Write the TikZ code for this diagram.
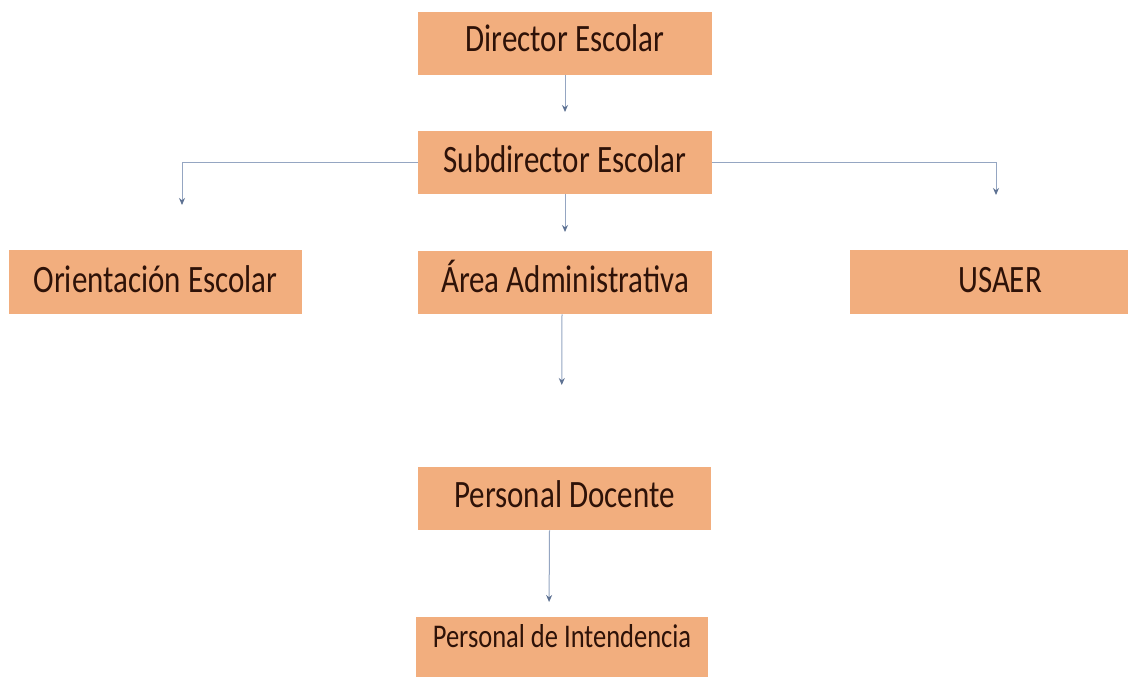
\documentclass[tikz,border=0pt]{standalone}
\usepackage{fontspec}
\setmainfont{Carlito}
\usetikzlibrary{arrows.meta}
\definecolor{boxfill}{HTML}{F2AE7E}
\definecolor{boxtext}{HTML}{2E1208}
\definecolor{lineclr}{HTML}{95A6C2}
\definecolor{tipclr}{HTML}{5E7293}
\newcommand{\tall}[1]{\scalebox{1}[1.25]{#1}}
\tikzset{
  orgbox/.style={fill=boxfill, draw=none, inner sep=0pt, text=boxtext,
    font=\fontsize{31}{36}\selectfont, anchor=north,
    text height=41pt, text depth=22pt},
  conn/.style={draw=lineclr, line width=1pt,
    -{Stealth[length=7pt,width=6pt,color=tipclr]}}
}
\begin{document}
\begin{tikzpicture}[x=1pt,y=-1pt]
\useasboundingbox (0,0) rectangle (1128,677);
\clip (0,0) rectangle (1128,677);
\fill[white] (0,0) rectangle (1128,677);
\node[orgbox, minimum width=294pt, text height=39pt, text depth=24pt] (dir) at (565,12) {\tall{Director Escolar}};
\node[orgbox, minimum width=294pt] (sub) at (565,131) {\tall{Subdirector Escolar}};
\node[orgbox, minimum width=294pt] (area) at (565,251) {\tall{Área Administrativa}};
\node[orgbox, minimum width=293pt, text height=42pt] (ori) at (155.5,250) {\tall{Orientación Escolar}};
\node[orgbox, minimum width=300pt, text height=42pt] (usaer) at (1000,250) {\tall{USAER}};
\node[orgbox, minimum width=293pt, text height=40pt, text depth=23pt] (doc) at (564.5,467) {\tall{Personal Docente}};
\node[orgbox, minimum width=292pt, font=\fontsize{26.5}{30}\selectfont,
  text height=30pt, text depth=34pt] (int) at (562,617) {\tall{Personal de Intendencia}};
\draw[conn, shorten >=19pt] (dir) -- (sub);
\draw[conn, shorten >=19pt] (sub) -- (area);
\draw[conn, shorten >=82pt] ([xshift=-3pt]area.south) -- ([xshift=-3pt]doc.north);
\draw[conn, shorten >=15pt] ([xshift=-15pt]doc.south) -- ([xshift=-13pt]int.north);
\draw[conn, shorten >=45pt] (sub.west) -| ([xshift=26.5pt]ori.north);
\draw[conn, shorten >=55pt] (sub.east) -| ([xshift=-4pt]usaer.north);
\end{tikzpicture}
\end{document}
